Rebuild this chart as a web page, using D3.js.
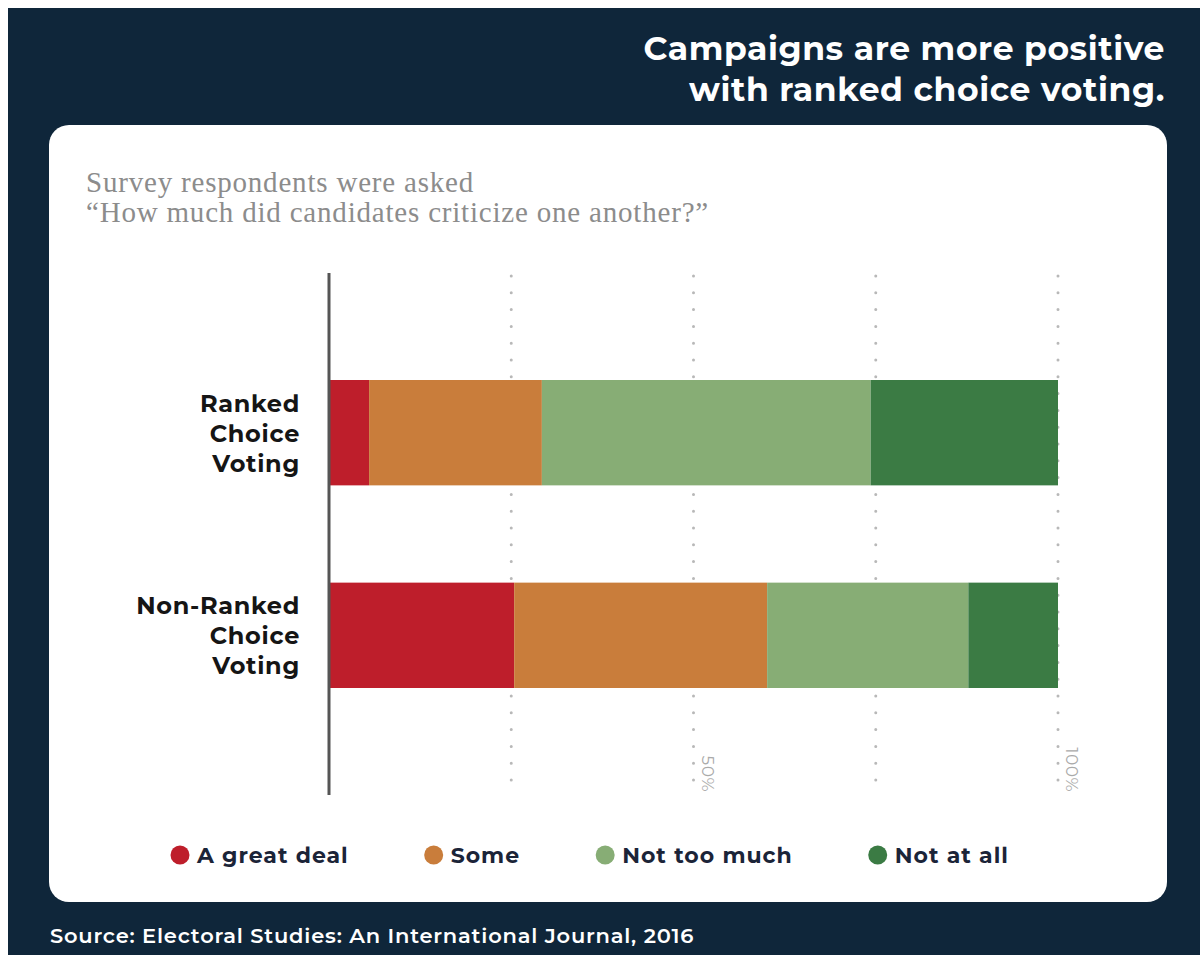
<!DOCTYPE html>
<html>
<head>
<meta charset="utf-8">
<script src="https://cdn.jsdelivr.net/npm/d3@7"></script>
<style>
  html, body { margin: 0; padding: 0; background: #ffffff; }
  svg { display: block; }
</style>
</head>
<body>
<svg id="chart" width="1200" height="955"></svg>
<script>
// Survey: "How much did candidates criticize one another?" (share of respondents, %)
const categories = ["Ranked Choice Voting", "Non-Ranked Choice Voting"];
const categoryLines = [["Ranked", "Choice", "Voting"], ["Non-Ranked", "Choice", "Voting"]];
const responses = ["A great deal", "Some", "Not too much", "Not at all"];
const greatDeal  = [5.5, 25.4];
const some       = [23.7, 34.7];
const notTooMuch = [45.1, 27.6];
const notAtAll   = [25.7, 12.3];
const gridTicks = [25, 50, 75, 100];
const tickLabels = ["", "50%", "", "100%"];
const titleLines = ["Campaigns are more positive", "with ranked choice voting."];
const subtitleLines = ["Survey respondents were asked", "\u201CHow much did candidates criticize one another?\u201D"];
const sourceText = "Source: Electoral Studies: An International Journal, 2016";

const colors = ["#be1e2b", "#c97d3b", "#87ad75", "#3b7b44"];
const navy = "#0f263a";
const sans = "Montserrat, 'Open Sans', 'Noto Sans', sans-serif";

const svg = d3.select("#chart");

// dark backdrop and white card
svg.append("rect").attr("x", 8).attr("y", 8).attr("width", 1192).attr("height", 947).attr("fill", navy);
svg.append("rect").attr("x", 49).attr("y", 125).attr("width", 1118).attr("height", 777)
  .attr("rx", 20).attr("ry", 20).attr("fill", "#ffffff");

// headline
svg.append("text")
  .attr("text-anchor", "end")
  .attr("font-family", sans).attr("font-weight", 700).attr("font-size", 33)
  .attr("letter-spacing", 0.6)
  .attr("fill", "#ffffff")
  .selectAll("tspan").data(titleLines).join("tspan")
  .attr("x", 1165).attr("y", (d, i) => 60 + i * 41)
  .text(d => d);

// question text
svg.append("text")
  .attr("font-family", "'Liberation Serif', 'DejaVu Serif', serif")
  .attr("font-size", 29).attr("letter-spacing", 0.8).attr("fill", "#8c8c8c")
  .selectAll("tspan").data(subtitleLines).join("tspan")
  .attr("x", 86).attr("y", (d, i) => 192 + i * 30)
  .text(d => d);

// scales
const x = d3.scaleLinear().domain([0, 100]).range([329, 1058]);
const y = d3.scaleBand().domain(categories).range([380, 688]).paddingInner(0.48).paddingOuter(0);

// dotted gridlines
const gridTop = 276, gridBottom = 795;
svg.append("g").selectAll("line").data(gridTicks).join("line")
  .attr("x1", d => x(d)).attr("x2", d => x(d))
  .attr("y1", gridTop).attr("y2", gridBottom)
  .attr("stroke", "#b8b8b8").attr("stroke-width", 3)
  .attr("stroke-linecap", "round").attr("stroke-dasharray", "0 16.8");

// stacked bars
const rows = categories.map((c, i) => ({
  category: c,
  "A great deal": greatDeal[i],
  "Some": some[i],
  "Not too much": notTooMuch[i],
  "Not at all": notAtAll[i]
}));
const stacked = d3.stack().keys(responses)(rows);
svg.append("g").selectAll("g").data(stacked).join("g")
  .attr("fill", (d, i) => colors[i])
  .selectAll("rect").data(d => d).join("rect")
  .attr("x", d => x(d[0]))
  .attr("width", d => x(d[1]) - x(d[0]))
  .attr("y", d => y(d.data.category))
  .attr("height", y.bandwidth());

// baseline axis
svg.append("line")
  .attr("x1", x(0)).attr("x2", x(0)).attr("y1", 273).attr("y2", gridBottom)
  .attr("stroke", "#555555").attr("stroke-width", 3);

// rotated percentage labels
svg.append("g").selectAll("text").data(gridTicks.map((t, i) => ({ t, label: tickLabels[i] })).filter(d => d.label))
  .join("text")
  .attr("transform", d => `translate(${x(d.t) + 8},792) rotate(90)`)
  .attr("text-anchor", "end")
  .attr("font-family", sans).attr("font-size", 17).attr("letter-spacing", 0.5).attr("fill", "#aaaaaa")
  .text(d => d.label);

// category labels
const catG = svg.append("g");
categories.forEach((c, i) => {
  const cy = y(c) + y.bandwidth() / 2;
  catG.append("text")
    .attr("text-anchor", "end")
    .attr("font-family", sans).attr("font-weight", 700).attr("font-size", 24)
    .attr("letter-spacing", 0.7)
    .attr("fill", "#151515")
    .selectAll("tspan").data(categoryLines[i]).join("tspan")
    .attr("x", 300).attr("y", (d, j) => cy + 9 + (j - 1) * 30)
    .text(d => d);
});

// legend
const legend = svg.append("g");
let lx = 171;
responses.forEach((r, i) => {
  const item = legend.append("g");
  item.append("circle").attr("cx", lx + 9).attr("cy", 855).attr("r", 9.5).attr("fill", colors[i]);
  const t = item.append("text")
    .attr("x", lx + 26).attr("y", 863)
    .attr("font-family", sans).attr("font-weight", 700).attr("font-size", 22)
    .attr("letter-spacing", 1.0)
    .attr("fill", "#1b2438")
    .text(r);
  lx = lx + 26 + t.node().getComputedTextLength() + 76;
});

// source line
svg.append("text")
  .attr("x", 50).attr("y", 943)
  .attr("font-family", sans).attr("font-weight", 600).attr("font-size", 21)
  .attr("letter-spacing", 0.8)
  .attr("fill", "#ffffff")
  .text(sourceText);
</script>
</body>
</html>
